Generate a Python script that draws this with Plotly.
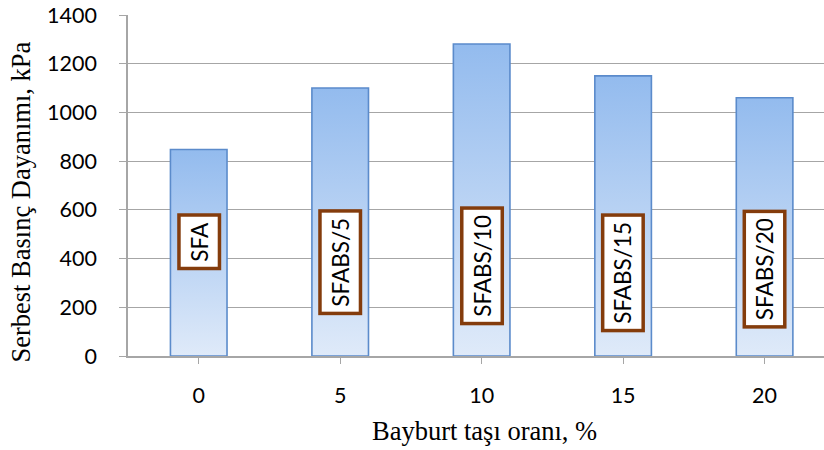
import plotly.graph_objects as go

# Data
categories = ["0", "5", "10", "15", "20"]
strength_kpa = [848, 1100, 1281, 1150, 1060]
mix_labels = ["SFA", "SFABS/5", "SFABS/10", "SFABS/15", "SFABS/20"]
y_ticks = [0, 200, 400, 600, 800, 1000, 1200, 1400]

# Styling / layout
label_y = [470, 386, 371, 340, 357]
bar_half_width = 0.2
bar_edge = "#5B8BCB"
grad_bottom = "#DFEAF9"
grad_top = "#93BBEE"
grid_col = "#A6A6A6"
box_col = "#843C0C"
tick_font = dict(family="Lato, Open Sans, sans-serif", size=21.5, color="#000000")
title_font = dict(family="Liberation Serif, Times New Roman, serif", size=26.5, color="#000000")

fig = go.Figure()

# Each bar is a filled polygon so it can carry its own vertical gradient
for i, v in enumerate(strength_kpa):
    xs = [i - bar_half_width, i - bar_half_width, i + bar_half_width, i + bar_half_width, i - bar_half_width]
    ys = [0, v, v, 0, 0]
    fig.add_trace(go.Scatter(
        x=xs, y=ys, mode="lines", fill="toself",
        line=dict(color=bar_edge, width=1.6),
        fillgradient=dict(type="vertical",
                          colorscale=[[0, grad_bottom], [1, grad_top]],
                          start=0, stop=v),
        hoverinfo="skip", showlegend=False,
    ))

# Boxed mix labels inside each bar
for i, (lab, ly) in enumerate(zip(mix_labels, label_y)):
    fig.add_annotation(
        x=i, y=ly, xref="x", yref="y", text=lab, textangle=-90,
        showarrow=False, font=dict(family=tick_font["family"], size=22.5, color="#000000"),
        bgcolor="#FFFFFF", bordercolor=box_col, borderwidth=3.5, borderpad=5,
    )

# Axis titles
fig.add_annotation(
    x=-0.1537, y=0.45, xref="paper", yref="paper", text="Serbest Basınç Dayanımı, kPa",
    textangle=-90, showarrow=False, font=title_font, xanchor="center", yanchor="middle",
)
fig.add_annotation(
    x=0.5115, y=-0.22, xref="paper", yref="paper", text="Bayburt taşı oranı, %",
    showarrow=False, font=title_font, xanchor="center", yanchor="middle",
)

fig.update_layout(
    width=824, height=450,
    margin=dict(l=128, r=0, t=15, b=94),
    paper_bgcolor="#FFFFFF", plot_bgcolor="#FFFFFF",
    showlegend=False,
)
fig.update_xaxes(
    range=[-0.5, 4.42], tickmode="array",
    tickvals=list(range(len(categories))), ticktext=categories,
    showgrid=False, zeroline=False,
    showline=True, linecolor=grid_col, linewidth=1.5,
    ticks="outside", ticklen=6, tickcolor=grid_col, tickwidth=1.2,
    ticklabelstandoff=13, tickfont=tick_font,
)
fig.update_yaxes(
    range=[0, 1400], tickmode="array", tickvals=y_ticks,
    showgrid=True, gridcolor=grid_col, gridwidth=1.4, zeroline=False,
    showline=True, linecolor=grid_col, linewidth=1.5,
    ticks="outside", ticklen=7, tickcolor=grid_col, tickwidth=1.4,
    ticklabelstandoff=18, tickfont=tick_font,
)

fig.write_html("out.html")
